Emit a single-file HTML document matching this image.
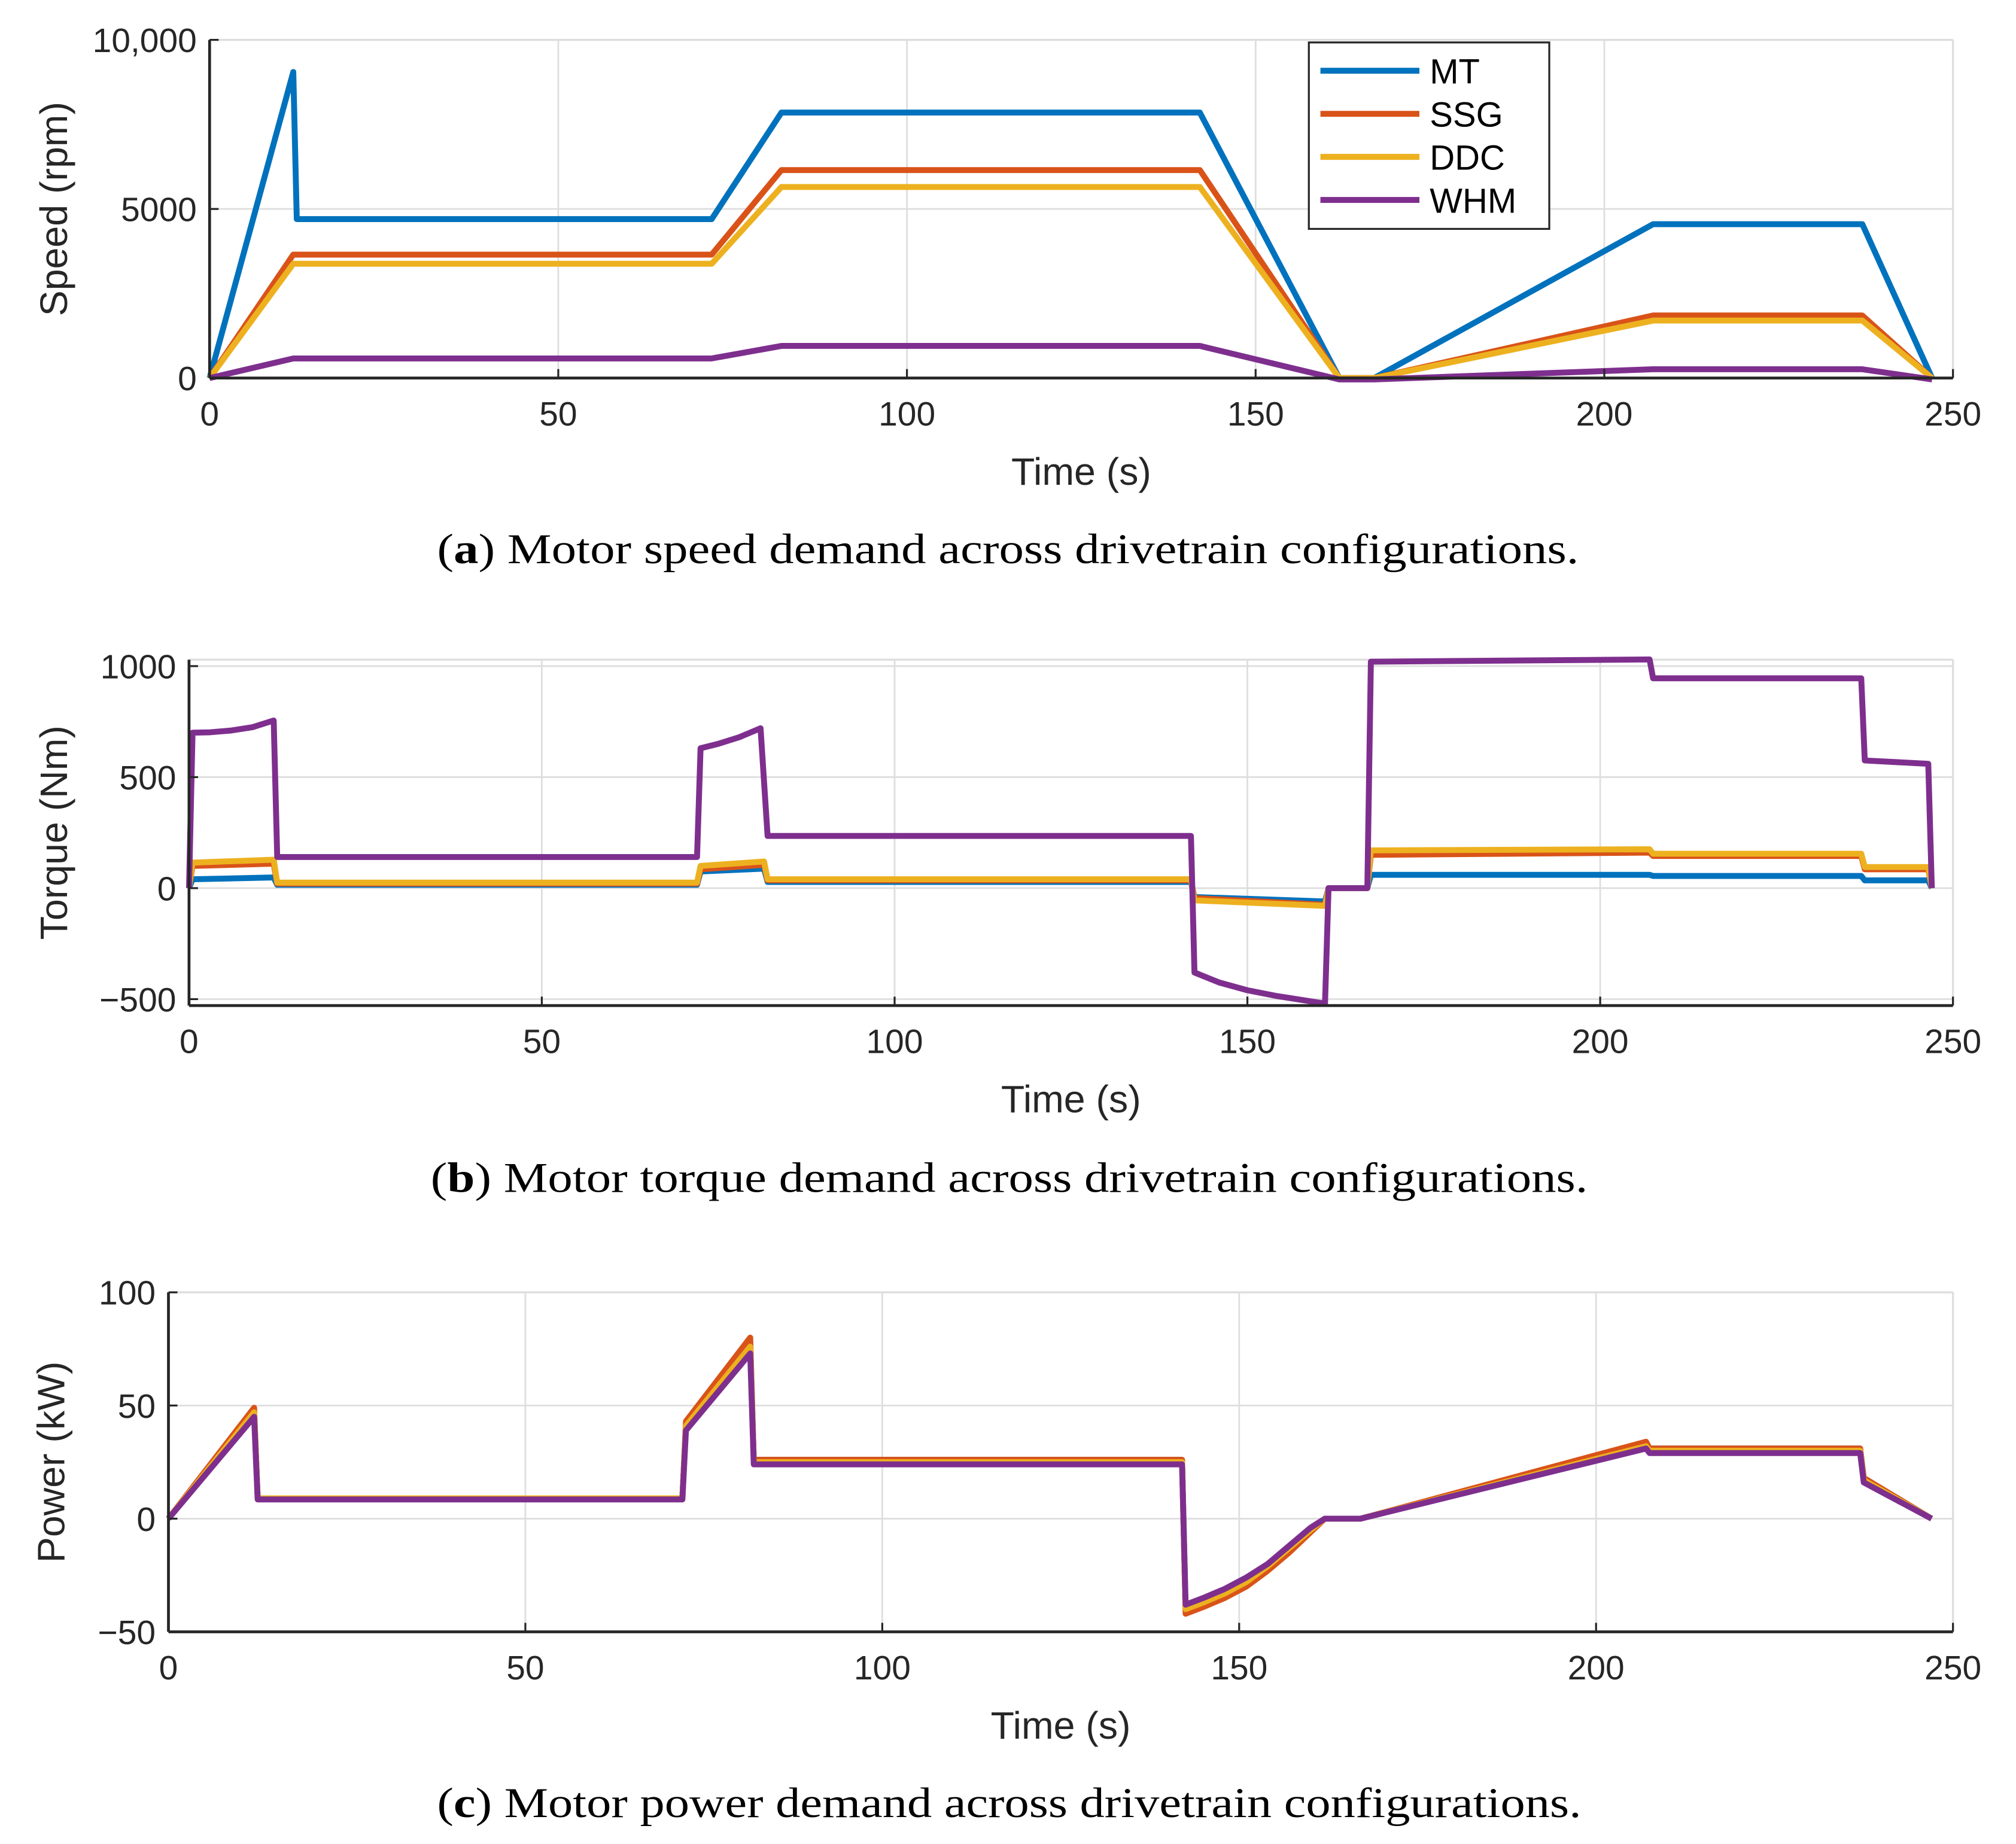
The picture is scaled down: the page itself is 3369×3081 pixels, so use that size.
<!DOCTYPE html>
<html><head><meta charset="utf-8"><style>
html,body{margin:0;padding:0;background:#fff}
svg{display:block}
</style></head><body>
<svg id="fig" width="3369" height="3081" viewBox="0 0 1568 1434" xmlns="http://www.w3.org/2000/svg">
<rect width="1568" height="1434" fill="#fff"/>
</svg>
<script>
// ---- Panel (a) speed data ----
const speedT_MT = [0,12,12.5,72,82,142,162,167,207,237,247];
const speedV_MT = [0,9050,4700,4700,7850,7850,0,0,4550,4550,0];
const speedT_SSG = [0,12,72,82,142,162,167,207,237,247];
const speedV_SSG = [0,3650,3650,6150,6150,0,0,1850,1850,0];
const speedT_DDC = [0,12,72,82,142,162,167,207,237,247];
const speedV_DDC = [0,3380,3380,5650,5650,0,0,1700,1700,0];
const speedT_WHM = [0,12,72,82,142,162,167,207,237,247];
const speedV_WHM = [0,580,580,950,950,-40,-40,260,260,-40];
const speedYTicks = [0,5000,10000];
const speedYTickLabels = ["0","5000","10,000"];
// ---- Panel (b) torque data ----
const torqT_MT = [0,0.5,12,12.5,72,72.5,81.5,82,142,142.5,161,161.5,167,167.5,207,207.5,237,237.5,246.5,247];
const torqV_MT = [0,40,48,15,15,75,88,28,28,-40,-60,0,0,60,60,55,55,35,35,0];
const torqV_SSG = [0,100,110,20,20,85,105,35,35,-45,-75,0,0,150,160,145,145,85,85,0];
const torqV_DDC = [0,115,128,25,25,100,120,40,40,-55,-80,0,0,170,175,155,155,95,95,0];
const torqT_WHM = [0,0.5,3,6,9,12,12.5,72,72.5,75,78,81,82,142,142.5,146,150,154,158,161,161.5,167,167.5,207,207.5,237,237.5,246.5,247];
const torqV_WHM = [0,700,702,710,725,755,140,140,630,650,680,720,235,235,-380,-425,-460,-485,-505,-520,0,0,1020,1030,945,945,575,560,0];
const torqYTicks = [-500,0,500,1000];
const torqYTickLabels = ["\u2212500","0","500","1000"];
// ---- Panel (c) power data ----
const powT = [0,12,12.5,72,72.5,81.5,82,142,142.5,145,148,151,154,157,160,162,167,207,207.5,237,237.5,247];
const powV_MT = [0,48,9,9,42,78,26,26,-41,-38,-34,-29,-22,-14,-5,0,0,33,31,31,18,0];
const powV_SSG = [0,49,9,9,43,80,26,26,-42,-39,-35,-30,-23,-15,-6,0,0,34,31,31,18,0];
const powV_DDC = [0,47,9,9,41,76,25,25,-40,-37,-33,-28,-21,-13,-5,0,0,32,30,30,17,0];
const powV_WHM = [0,45,8.5,8.5,39,73,24,24,-38,-35,-31,-26,-20,-12,-4,0,0,31,29,29,16,0];
const powYTicks = [-50,0,50,100];
const powYTickLabels = ["\u221250","0","50","100"];
const xTicks = [0,50,100,150,200,250];
const seriesNames = ["MT","SSG","DDC","WHM"];
const colors = ["#0072BD","#D95319","#EDB120","#7E2F8E"];

const NS="http://www.w3.org/2000/svg";
const svg=document.getElementById('fig');
function mk(tag,attrs,parent){const e=document.createElementNS(NS,tag);for(const k in attrs)e.setAttribute(k,attrs[k]);(parent||svg).appendChild(e);return e;}

function panel(cfg){
  const g=mk('g',{});
  
  
  const X=v=>cfg.x0+(v-0)/(250)*(cfg.x1-cfg.x0);
  const Y=v=>cfg.yb-(v-cfg.ymin)/(cfg.ymax-cfg.ymin)*(cfg.yb-cfg.yt);
  xTicks.forEach(t=>{const l=mk('line',{x1:X(t),x2:X(t),y1:cfg.yt,y2:cfg.yb,stroke:'#dedede','stroke-width':1.3},g);
    
    });
  cfg.yticks.forEach(t=>{const l=mk('line',{x1:cfg.x0,x2:cfg.x1,y1:Y(t),y2:Y(t),stroke:'#dedede','stroke-width':1.3},g);
    
    });
  mk('line',{x1:cfg.x0,x2:cfg.x1,y1:cfg.yt,y2:cfg.yt,stroke:'#dedede','stroke-width':1.6},g);
  mk('line',{x1:cfg.x1,x2:cfg.x1,y1:cfg.yt,y2:cfg.yb,stroke:'#dedede','stroke-width':1.6},g);
  cfg.series.forEach((s,i)=>{
    const p=mk('polyline',{points:s.t.map((t,j)=>X(t).toFixed(2)+','+Y(s.v[j]).toFixed(2)).join(' '),fill:'none',stroke:colors[i],'stroke-width':4.6,'stroke-linejoin':'round'},g);
    
    
  });
  const ax=mk('line',{x1:cfg.x0,x2:cfg.x1,y1:cfg.yb,y2:cfg.yb,stroke:'#262626','stroke-width':2.2},g);
  
  
  const ay=mk('line',{x1:cfg.x0,x2:cfg.x0,y1:cfg.yt,y2:cfg.yb,stroke:'#262626','stroke-width':2.2},g);
  
  
  xTicks.forEach(t=>{
    mk('line',{x1:X(t),x2:X(t),y1:cfg.yb,y2:cfg.yb-7,stroke:'#262626','stroke-width':1.5},g);
    const tx=mk('text',{x:X(t),y:cfg.yb+37,'text-anchor':'middle','font-size':26.5,fill:'#262626','font-family':'Liberation Sans, sans-serif'},g);
    tx.textContent=t;
    
    
  });
  cfg.yticks.forEach((t,i)=>{
    mk('line',{x1:cfg.x0,x2:cfg.x0+7,y1:Y(t),y2:Y(t),stroke:'#262626','stroke-width':1.5},g);
    const tx=mk('text',{x:cfg.x0-10,y:Y(t)+9.5,'text-anchor':'end','font-size':26.5,fill:'#262626','font-family':'Liberation Sans, sans-serif'},g);
    tx.textContent=cfg.ylabels[i];
    
    
  });
  const xl=mk('text',{x:(cfg.x0+cfg.x1)/2,y:cfg.yb+83,'text-anchor':'middle','font-size':30,fill:'#262626','font-family':'Liberation Sans, sans-serif'},g);
  xl.textContent='Time (s)';
  
  
  const yl=mk('text',{x:0,y:0,'text-anchor':'middle','font-size':30,fill:'#262626','font-family':'Liberation Sans, sans-serif',transform:`translate(${cfg.ylx},${(cfg.yt+cfg.yb)/2}) rotate(-90)`},g);
  yl.textContent=cfg.ytitle;
  
  
  const cap=mk('text',{x:cfg.capx0,y:cfg.capy,'font-size':33,fill:'#000','font-family':'Liberation Serif, serif',textLength:cfg.capw,lengthAdjust:'spacingAndGlyphs'},g);
  const b=document.createElementNS(NS,'tspan');b.textContent='(';cap.appendChild(b);
  const bb=document.createElementNS(NS,'tspan');bb.setAttribute('font-weight','bold');bb.textContent=cfg.letter;cap.appendChild(bb);
  const rest=document.createElementNS(NS,'tspan');rest.textContent=') '+cfg.caption;cap.appendChild(rest);
  
  
  return g;
}

panel({name:'speed-chart',x0:163,x1:1519,yt:31,yb:294,ymin:0,ymax:10000,yticks:speedYTicks,ylabels:speedYTickLabels,ytitle:'Speed (rpm)',ylx:52,capy:438,capx0:340,capw:888,letter:'a',caption:'Motor speed demand across drivetrain configurations.',
  series:[{t:speedT_MT,v:speedV_MT},{t:speedT_SSG,v:speedV_SSG},{t:speedT_DDC,v:speedV_DDC},{t:speedT_WHM,v:speedV_WHM}]});
panel({name:'torque-chart',x0:147,x1:1519,yt:513,yb:782,ymin:-529,ymax:1029,yticks:torqYTicks,ylabels:torqYTickLabels,ytitle:'Torque (Nm)',ylx:52,capy:927,capx0:335,capw:900,letter:'b',caption:'Motor torque demand across drivetrain configurations.',
  series:[{t:torqT_MT,v:torqV_MT},{t:torqT_MT,v:torqV_SSG},{t:torqT_MT,v:torqV_DDC},{t:torqT_WHM,v:torqV_WHM}]});
panel({name:'power-chart',x0:131,x1:1519,yt:1005,yb:1269,ymin:-50,ymax:100,yticks:powYTicks,ylabels:powYTickLabels,ytitle:'Power (kW)',ylx:50,capy:1413,capx0:340,capw:890,letter:'c',caption:'Motor power demand across drivetrain configurations.',
  series:[{t:powT,v:powV_MT},{t:powT,v:powV_SSG},{t:powT,v:powV_DDC},{t:powT,v:powV_WHM}]});

const lg=mk('g',{});


mk('rect',{x:1018,y:33,width:187,height:145,fill:'#fff',stroke:'#262626','stroke-width':1.5},lg);
seriesNames.forEach((n,i)=>{
  const y=55+i*33.5;
  const e=mk('g',{},lg);
  
  
  mk('line',{x1:1027,x2:1104,y1:y,y2:y,stroke:colors[i],'stroke-width':4.6},e);
  const t=mk('text',{x:1112,y:y+10,'font-size':27,fill:'#000','font-family':'Liberation Sans, sans-serif'},e);
  t.textContent=n;
});
</script>
</body></html>
